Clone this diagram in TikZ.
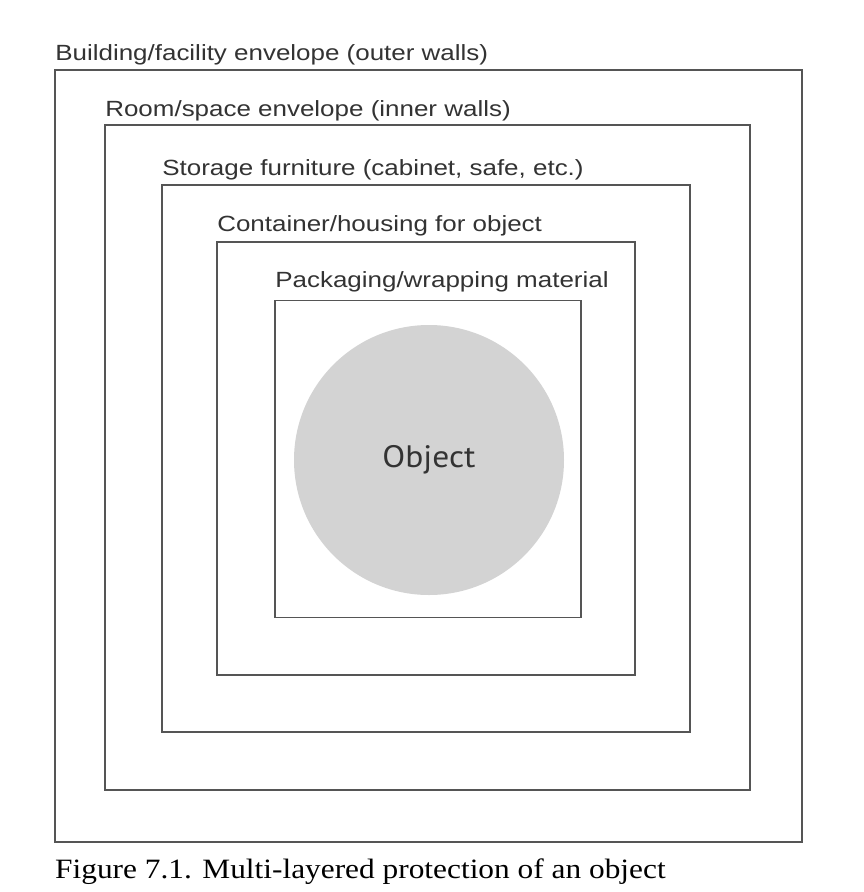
\documentclass[tikz,border=0pt]{standalone}
\usepackage{fontspec}
\setmainfont{Liberation Sans}[FakeStretch=1.18]
\newfontfamily\capfont{Liberation Serif}[FakeStretch=1.12]
\newfontfamily\objfont{PT Sans}[FakeStretch=1.08]
\definecolor{wallgray}{HTML}{555555}
\definecolor{labelgray}{HTML}{333333}
\definecolor{objgray}{HTML}{D3D3D3}
\begin{document}
\begin{tikzpicture}[x=1pt,y=-1pt,
  layer/.style={draw=wallgray, line width=1.8pt, rectangle, inner sep=0pt},
  layerlabel/.style={anchor=base west, inner sep=0pt, text=labelgray,
    font=\fontsize{22}{26}\selectfont}]
  \useasboundingbox[fill=white] (0,0) rectangle (864,892);

  % nested protective layers, outermost first
  \node[layer, minimum width=747pt, minimum height=772pt] (building)  at (428.5,456) {};
  \node[layer, minimum width=645pt, minimum height=665pt] (room)      at (427.5,457.5) {};
  \node[layer, minimum width=528pt, minimum height=547pt] (storage)   at (426,458.5) {};
  \node[layer, minimum width=418pt, minimum height=433pt] (container) at (426,458.5) {};
  \node[layer, minimum width=306pt, minimum height=317pt] (packaging) at (428,459) {};

  % layer names above each top-left corner
  \node[layerlabel] (lbuilding)  at ([xshift=1pt,yshift=9pt]building.north west)   {Building/facility envelope (outer walls)};
  \node[layerlabel] (lroom)      at ([xshift=1pt,yshift=8pt]room.north west)       {Room/space envelope (inner walls)};
  \node[layerlabel] (lstorage)   at ([xshift=1pt,yshift=9pt]storage.north west)    {Storage furniture (cabinet, safe, etc.)};
  \node[layerlabel] (lcontainer) at ([xshift=1pt,yshift=10pt]container.north west) {Container/housing for object};
  \node[layerlabel] (lpackaging) at ([xshift=1pt,yshift=12pt]packaging.north west) {Packaging/wrapping material};

  % the protected object
  \node[circle, fill=objgray, minimum size=270pt, inner sep=0pt, text=labelgray,
        font=\objfont\fontsize{31}{36}\selectfont] (object) at (429,460) {Object};

  % caption
  \node[anchor=base west, inner sep=0pt, font=\capfont\fontsize{28}{32}\selectfont] (caption)
    at (55,878) {Figure 7.1. Multi-layered protection of an object};
\end{tikzpicture}
\end{document}
